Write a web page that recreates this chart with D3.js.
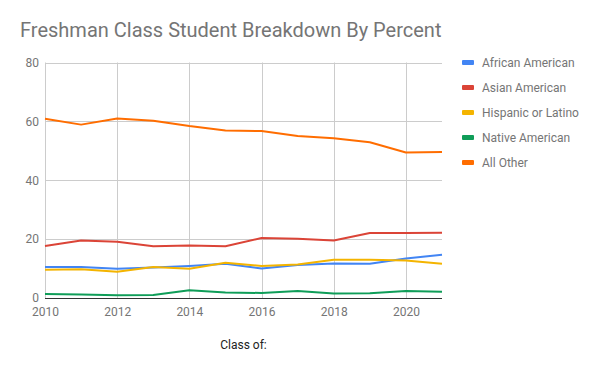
<!DOCTYPE html>
<html>
<head>
<meta charset="utf-8">
<script src="https://cdn.jsdelivr.net/npm/d3@7"></script>
<style>
  html, body { margin: 0; padding: 0; background: #fff; }
  svg { display: block; font-family: Roboto, Arial, sans-serif; }
</style>
</head>
<body>
<div id="chart"></div>
<script>
const years = [2010, 2011, 2012, 2013, 2014, 2015, 2016, 2017, 2018, 2019, 2020, 2021];
const africanAmerican = [10.5, 10.5, 9.9, 10.4, 10.9, 11.6, 10.0, 11.2, 11.7, 11.6, 13.4, 14.7];
const asianAmerican = [17.7, 19.5, 19.1, 17.6, 17.8, 17.6, 20.4, 20.1, 19.5, 22.1, 22.1, 22.2];
const hispanicOrLatino = [9.6, 9.8, 8.9, 10.5, 9.9, 12.0, 10.9, 11.4, 13.0, 13.0, 12.7, 11.6];
const nativeAmerican = [1.35, 1.2, 0.9, 1.0, 2.6, 1.9, 1.7, 2.4, 1.5, 1.6, 2.4, 2.1];
const allOther = [60.9, 58.9, 61.0, 60.2, 58.4, 56.9, 56.7, 55.0, 54.3, 52.9, 49.4, 49.6];
const seriesNames = ['African American', 'Asian American', 'Hispanic or Latino', 'Native American', 'All Other'];
const seriesColors = ['#4285F4', '#DB4437', '#F4B400', '#0F9D58', '#FF6D00'];
const xTicks = [2010, 2012, 2014, 2016, 2018, 2020];
const yTicks = [0, 20, 40, 60, 80];

const series = [africanAmerican, asianAmerican, hispanicOrLatino, nativeAmerican, allOther]
  .map((values, i) => ({ name: seriesNames[i], color: seriesColors[i], values }));

const width = 600;
const height = 371;
const margin = { top: 62.5, right: 158, bottom: 73, left: 45 };

const svg = d3.select('#chart')
  .append('svg')
  .attr('width', width)
  .attr('height', height);

const x = d3.scaleLinear()
  .domain([2010, 2021])
  .range([margin.left, width - margin.right]);

const y = d3.scaleLinear()
  .domain([0, 80])
  .range([height - margin.bottom, margin.top]);

// gridlines
svg.append('g')
  .selectAll('line')
  .data(yTicks.filter(t => t > 0))
  .join('line')
  .attr('x1', x(2010))
  .attr('x2', x(2021))
  .attr('y1', d => Math.round(y(d)) + 0.5)
  .attr('y2', d => Math.round(y(d)) + 0.5)
  .attr('stroke', '#cccccc');

svg.append('g')
  .selectAll('line')
  .data(xTicks)
  .join('line')
  .attr('x1', d => Math.round(x(d)) + 0.5)
  .attr('x2', d => Math.round(x(d)) + 0.5)
  .attr('y1', y(80))
  .attr('y2', y(0))
  .attr('stroke', '#cccccc');

// axes
const xAxis = svg.append('g')
  .attr('transform', `translate(0, ${y(0)})`)
  .call(d3.axisBottom(x).tickValues(xTicks).tickFormat(d3.format('d')).tickSize(0).tickPadding(9.5));
xAxis.select('.domain').remove();
xAxis.selectAll('text')
  .attr('fill', '#757575')
  .style('font-size', '12px')
  .style('font-family', 'Roboto, Arial, sans-serif');

const yAxis = svg.append('g')
  .attr('transform', `translate(${margin.left}, 0)`)
  .call(d3.axisLeft(y).tickValues(yTicks).tickSize(0).tickPadding(6));
yAxis.select('.domain').remove();
yAxis.selectAll('text')
  .attr('fill', '#757575')
  .style('font-size', '12px')
  .style('font-family', 'Roboto, Arial, sans-serif');

// lines
const line = d3.line()
  .x((d, i) => x(years[i]))
  .y(d => y(d));

svg.append('g')
  .selectAll('path')
  .data(series)
  .join('path')
  .attr('fill', 'none')
  .attr('stroke', d => d.color)
  .attr('stroke-width', 2)
  .attr('stroke-linejoin', 'round')
  .attr('d', d => line(d.values));

// baseline
svg.append('line')
  .attr('x1', x(2010))
  .attr('x2', x(2021))
  .attr('y1', Math.round(y(0)) + 0.5)
  .attr('y2', Math.round(y(0)) + 0.5)
  .attr('stroke', '#333333');

// title
svg.append('text')
  .attr('x', 20)
  .attr('y', 37)
  .attr('fill', '#757575')
  .style('font-size', '20px')
  .text('Freshman Class Student Breakdown By Percent');

// legend
const legend = svg.append('g')
  .selectAll('g')
  .data(series)
  .join('g')
  .attr('transform', (d, i) => `translate(462, ${62.5 + i * 25})`);

legend.append('rect')
  .attr('x', 0)
  .attr('y', -2.5)
  .attr('width', 12)
  .attr('height', 5)
  .attr('rx', 1)
  .attr('fill', d => d.color);

legend.append('text')
  .attr('x', 20)
  .attr('y', 4.5)
  .attr('fill', '#757575')
  .style('font-size', '12px')
  .text(d => d.name);

// x-axis title
svg.append('text')
  .attr('x', x(2010) + (x(2021) - x(2010)) / 2)
  .attr('y', 349)
  .attr('text-anchor', 'middle')
  .attr('fill', '#222222')
  .style('font-size', '12px')
  .text('Class of:');
</script>
</body>
</html>
